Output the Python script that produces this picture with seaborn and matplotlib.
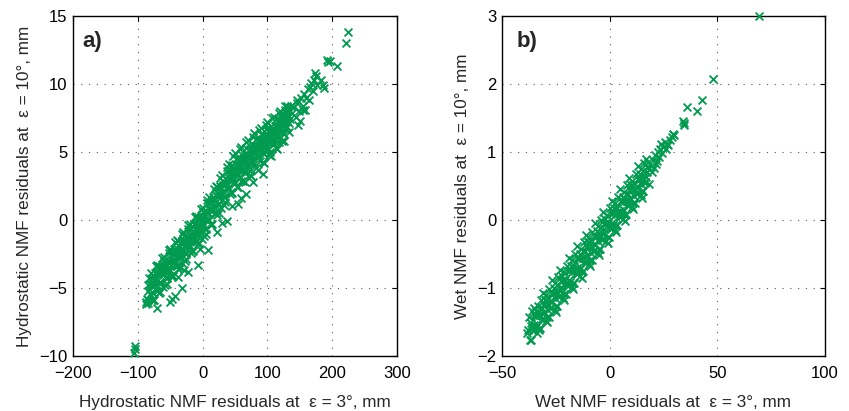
import matplotlib
matplotlib.use("Agg")
import matplotlib.pyplot as plt
import seaborn as sns
import numpy as np

# ---- panel a: hydrostatic NMF residuals (mm), eps=3 deg vs eps=10 deg ----
hyd_x = [
    -85, -84, -82.5, -81.5, -80, -79, -77.5, -76.5, -75, -74, -72.5, -71.5,
    -70, -69, -67.5, -66.5, -65, -64, -62.5, -61.5, -60, -59, -57.5, -56.5,
    -55, -54, -52.5, -51.5, -50, -49, -47.5, -46.5, -45, -44, -42.5, -41.5,
    -40, -39, -37.5, -36.5, -35, -34, -32.5, -31.5, -30, -29, -27.5, -26.5,
    -25, -24, -22.5, -21.5, -20, -19, -17.5, -16.5, -15, -14, -12.5, -11.5,
    -10, -9, -7.5, -6.5, -5, -4, -2.5, -1.5, 0, 1, 2.5, 3.5,
    5, 6, 7.5, 8.5, 10, 11, 12.5, 13.5, 15, 16, 17.5, 18.5,
    20, 21, 22.5, 23.5, 25, 26, 27.5, 28.5, 30, 31, 32.5, 33.5,
    35, 36, 37.5, 38.5, 40, 41, 42.5, 43.5, 45, 46, 47.5, 48.5,
    50, 51, 52.5, 53.5, 55, 56, 57.5, 58.5, 60, 61, 62.5, 63.5,
    65, 66, 67.5, 68.5, 70, 71, 72.5, 73.5, 75, 76, 77.5, 78.5,
    80, 81, 82.5, 83.5, 85, 86, 87.5, 88.5, 90, 91, 92.5, 93.5,
    95, 96, 97.5, 98.5, 100, 101, 102.5, 103.5, 105, 106, 107.5, 108.5,
    110, 111, 112.5, 113.5, 115, 116, 117.5, 118.5, 120, 121, 122.5, 123.5,
    125, 126, 127.5, 128.5, 130, 131, 132.5, 133.5, 135, 136,
]
hyd_y = [
    -6.1, -4.8, -4.25, -5.45, -5.5, -4.8, -4.25, -5.85, -4.8, -3.9, -4.25, -5.15,
    -5.2, -3.9, -3.35, -4.55, -4.6, -3.9, -3.35, -4.95, -3.9, -3.0, -3.35, -4.25,
    -4.3, -3.0, -2.45, -3.65, -3.7, -3.0, -2.45, -4.05, -3.0, -2.1, -2.45, -3.35,
    -3.4, -2.1, -1.55, -2.75, -2.8, -2.1, -1.56, -3.16, -2.11, -1.21, -1.56, -2.46,
    -2.52, -1.22, -0.67, -1.87, -1.92, -1.22, -0.67, -2.27, -1.23, -0.33, -0.68, -1.58,
    -1.64, -0.34, 0.21, -0.99, -1.04, -0.34, 0.2, -1.4, -0.35, 0.55, 0.24, -0.66,
    -0.66, 0.64, 1.24, 0.04, 0.03, 0.73, 1.33, -0.27, 0.82, 1.72, 1.42, 0.52,
    0.51, 1.81, 2.41, 1.21, 1.2, 1.9, 2.5, 0.9, 1.99, 2.89, 2.59, 1.69,
    1.68, 2.98, 3.58, 2.38, 2.37, 3.07, 3.67, 2.07, 3.16, 4.06, 3.72, 2.82,
    2.74, 4.04, 4.56, 3.36, 3.28, 3.98, 4.49, 2.89, 3.91, 4.81, 4.43, 3.53,
    3.45, 4.75, 5.26, 4.06, 3.98, 4.68, 5.2, 3.6, 4.62, 5.52, 5.13, 4.23,
    4.15, 5.45, 5.97, 4.77, 4.69, 5.39, 5.91, 4.31, 5.33, 6.23, 5.84, 4.94,
    4.86, 6.16, 6.68, 5.48, 5.4, 6.1, 6.62, 5.02, 6.04, 6.94, 6.56, 5.66,
    5.58, 6.88, 7.39, 6.19, 6.11, 6.81, 7.33, 5.73, 6.75, 7.65, 7.27, 6.37,
    6.29, 7.59, 8.11, 6.91, 6.83, 7.53, 8.04, 6.44, 7.46, 8.36,
]
# points near the middle of the band
hyd_core_x = [
    -83.75, -81.25, -78.75, -76.25, -73.75, -71.25, -68.75, -66.25, -63.75, -61.25, -58.75,
    -56.25, -53.75, -51.25, -48.75, -46.25, -43.75, -41.25, -38.75, -36.25, -33.75, -31.25,
    -28.75, -26.25, -23.75, -21.25, -18.75, -16.25, -13.75, -11.25, -8.75, -6.25, -3.75,
    -1.25, 1.25, 3.75, 6.25, 8.75, 11.25, 13.75, 16.25, 18.75, 21.25, 23.75,
    26.25, 28.75, 31.25, 33.75, 36.25, 38.75, 41.25, 43.75, 46.25, 48.75, 51.25,
    53.75, 56.25, 58.75, 61.25, 63.75, 66.25, 68.75, 71.25, 73.75, 76.25, 78.75,
    81.25, 83.75, 86.25, 88.75, 91.25, 93.75, 96.25, 98.75, 101.25, 103.75, 106.25,
    108.75, 111.25, 113.75, 116.25, 118.75, 121.25, 123.75, 126.25, 128.75, 131.25, 133.75,
]
hyd_core_y = [
    -5.23, -4.73, -5.28, -4.63, -4.78, -4.48, -3.98, -4.53, -3.88, -4.03, -3.73,
    -3.23, -3.78, -3.13, -3.28, -2.98, -2.48, -3.03, -2.38, -2.53, -2.23, -1.74,
    -2.29, -1.64, -1.80, -1.50, -1.00, -1.55, -0.91, -1.06, -0.77, -0.27, -0.82,
    -0.18, -0.31, 0.04, 0.59, 0.09, 0.78, 0.68, 1.02, 1.57, 1.06, 1.76,
    1.65, 2.00, 2.54, 2.04, 2.73, 2.63, 2.97, 3.52, 2.99, 3.63, 3.45,
    3.72, 4.19, 3.60, 4.22, 4.04, 4.31, 4.77, 4.19, 4.81, 4.63, 4.89,
    5.36, 4.78, 5.40, 5.22, 5.49, 5.95, 5.37, 5.99, 5.81, 6.08, 6.55,
    5.97, 6.59, 6.40, 6.67, 7.14, 6.56, 7.18, 7.00, 7.27, 7.74, 7.15,
]
# points along the outer edges of the band
hyd_edge_x = [
    -80, -75, -70, -65, -60, -55, -50, -45, -40, -35, -30, -25, -20, -15, -10,
    -5, 0, 5, 10, 15, 20, 25, 30, 35, 40, 45, 50, 55, 60, 65, 70,
    75, 80, 85, 90, 95, 100, 105, 110, 115, 120, 125, 130,
    -77.5, -72.5, -67.5, -62.5, -57.5, -52.5, -47.5, -42.5, -37.5, -32.5, -27.5, -22.5,
    -17.5, -12.5, -7.5, -2.5, 2.5, 7.5, 12.5, 17.5, 22.5, 27.5, 32.5, 37.5,
    42.5, 47.5, 52.5, 57.5, 62.5, 67.5, 72.5, 77.5, 82.5, 87.5, 92.5, 97.5,
    102.5, 107.5, 112.5, 117.5, 122.5, 127.5,
]
hyd_edge_y = [
    -3.9, -5.9, -3.3, -5.3, -2.7, -4.7, -2.1, -4.1, -1.5, -3.5, -0.9, -2.9, -0.3, -2.3, 0.3,
    -1.7, 0.9, -1.0, 1.7, -0.3, 2.5, 0.5, 3.3, 1.3, 4.1, 2.0, 4.9, 2.4, 5.4, 2.8, 5.9,
    3.2, 6.4, 3.7, 6.8, 4.2, 7.2, 4.7, 7.6, 5.2, 8.0, 5.8, 8.4,
    -5.9, -3.4, -5.4, -2.8, -4.8, -2.2, -4.2, -1.6, -3.6, -1.0, -3.0, -0.4,
    -2.4, 0.2, -1.8, 0.8, -1.2, 1.5, -0.4, 2.3, 0.4, 3.1, 1.1, 3.9,
    1.9, 4.7, 2.4, 5.2, 2.9, 5.7, 3.3, 6.1, 3.8, 6.6, 4.3, 7.0,
    4.8, 7.5, 5.3, 7.9, 5.8, 8.4,
]
# sparse upper tail and scattered points below the band
hyd_tail_x = [138, 141, 144, 146, 149, 147, 150, 152, 155, 157, 160, 162, 164, 158, 165,
              167, 170, 172, 173.5, 175, 176, 183, 186, 187, 192, 194, 196, 207, 221, 225,
              130, 145, 155]
hyd_tail_y = [7.9, 8.3, 7.6, 8.6, 8.0, 7.0, 7.3, 9.0, 8.4, 9.3, 9.0, 9.6, 8.8, 8.1, 9.8,
              10.1, 9.5, 10.3, 10.8, 10.6, 9.9, 10.3, 9.9, 9.7, 11.8, 11.6, 11.7, 11.3, 13.0, 13.8,
              8.3, 8.8, 8.1]
hyd_out_x = [-104, -106, -105, -88, -86, -87, -84, -71, -50, -47, -43, -38, -32, -28,
             -22, -7, -4.5, 9, 22, 37, 45, 55, 60, 67.5, 78, 93, 30]
hyd_out_y = [-9.3, -9.8, -9.5, -6.0, -5.8, -6.2, -5.9, -6.5, -6.0, -5.8, -5.6, -4.2, -5.0, -3.7,
             -3.8, -3.3, -2.1, -2.2, -0.9, -0.1, 1.0, 1.2, 1.6, 1.9, 2.8, 3.4, -0.2]

# ---- panel b: wet NMF residuals (mm) ----
wet_x = [
    -37, -36.6, -37.4, -36, -35.6, -36.4, -35, -34.6, -35.4, -34, -33.6, -34.4,
    -33, -32.6, -33.4, -32, -31.6, -32.4, -31, -30.6, -31.4, -30, -29.6, -30.4,
    -29, -28.6, -29.4, -28, -27.6, -28.4, -27, -26.6, -27.4, -26, -25.6, -26.4,
    -25, -24.6, -25.4, -24, -23.6, -24.4, -23, -22.6, -23.4, -22, -21.6, -22.4,
    -21, -20.6, -21.4, -20, -19.6, -20.4, -19, -18.6, -19.4, -18, -17.6, -18.4,
    -17, -16.6, -17.4, -16, -15.6, -16.4, -15, -14.6, -15.4, -14, -13.6, -14.4,
    -13, -12.6, -13.4, -12, -11.6, -12.4, -11, -10.6, -11.4, -10, -9.6, -10.4,
    -9, -8.6, -9.4, -8, -7.6, -8.4, -7, -6.6, -7.4, -6, -5.6, -6.4,
    -5, -4.6, -5.4, -4, -3.6, -4.4, -3, -2.6, -3.4, -2, -1.6, -2.4,
    -1, -0.6, -1.4, 0, 0.4, -0.4, 1, 1.4, 0.6, 2, 2.4, 1.6,
    3, 3.4, 2.6, 4, 4.4, 3.6, 5, 5.4, 4.6, 6, 6.4, 5.6,
    7, 7.4, 6.6, 8, 8.4, 7.6, 9, 9.4, 8.6, 10, 10.4, 9.6,
    11, 11.4, 10.6, 12, 12.4, 11.6, 13, 13.4, 12.6, 14, 14.4, 13.6,
    15, 15.4, 14.6, 16, 16.4, 15.6, 17, 17.4, 16.6, 18, 18.4, 17.6,
]
wet_y = [
    -1.76, -1.56, -1.43, -1.34, -1.62, -1.76, -1.55, -1.40, -1.64, -1.34, -1.66, -1.41,
    -1.60, -1.40, -1.27, -1.17, -1.45, -1.59, -1.38, -1.23, -1.47, -1.17, -1.49, -1.24,
    -1.43, -1.23, -1.10, -1.01, -1.29, -1.43, -1.21, -1.06, -1.30, -1.00, -1.32, -1.07,
    -1.26, -1.06, -0.93, -0.84, -1.12, -1.26, -1.05, -0.90, -1.14, -0.83, -1.15, -0.90,
    -1.09, -0.89, -0.76, -0.67, -0.95, -1.09, -0.88, -0.73, -0.97, -0.67, -0.99, -0.74,
    -0.92, -0.72, -0.59, -0.50, -0.78, -0.92, -0.71, -0.56, -0.80, -0.50, -0.82, -0.57,
    -0.76, -0.56, -0.43, -0.33, -0.61, -0.75, -0.54, -0.39, -0.63, -0.33, -0.65, -0.40,
    -0.59, -0.39, -0.26, -0.17, -0.45, -0.59, -0.37, -0.22, -0.46, -0.16, -0.48, -0.23,
    -0.42, -0.22, -0.09, 0.00, -0.28, -0.42, -0.21, -0.06, -0.30, 0.01, -0.31, -0.06,
    -0.25, -0.05, 0.08, 0.17, -0.11, -0.25, -0.04, 0.11, -0.13, 0.17, -0.15, 0.10,
    -0.08, 0.12, 0.25, 0.34, 0.06, -0.08, 0.13, 0.28, 0.04, 0.34, 0.02, 0.27,
    0.08, 0.28, 0.41, 0.51, 0.23, 0.09, 0.30, 0.45, 0.21, 0.51, 0.19, 0.44,
    0.25, 0.45, 0.58, 0.67, 0.39, 0.25, 0.47, 0.62, 0.38, 0.68, 0.36, 0.61,
    0.42, 0.62, 0.75, 0.84, 0.56, 0.42, 0.63, 0.78, 0.54, 0.85, 0.53, 0.78,
]
wet_core_x = [
    -36.5, -35.5, -34.5, -33.5, -32.5, -31.5, -30.5, -29.5, -28.5, -27.5, -26.5,
    -25.5, -24.5, -23.5, -22.5, -21.5, -20.5, -19.5, -18.5, -17.5, -16.5, -15.5,
    -14.5, -13.5, -12.5, -11.5, -10.5, -9.5, -8.5, -7.5, -6.5, -5.5, -4.5,
    -3.5, -2.5, -1.5, -0.5, 0.5, 1.5, 2.5, 3.5, 4.5, 5.5, 6.5,
    7.5, 8.5, 9.5, 10.5, 11.5, 12.5, 13.5, 14.5, 15.5, 16.5, 17.5,
]
wet_core_y = [
    -1.51, -1.57, -1.38, -1.54, -1.40, -1.30, -1.36, -1.17, -1.33, -1.19, -1.09,
    -1.15, -0.96, -1.12, -0.98, -0.88, -0.94, -0.75, -0.91, -0.77, -0.67, -0.73,
    -0.54, -0.70, -0.56, -0.46, -0.52, -0.33, -0.49, -0.35, -0.25, -0.31, -0.12,
    -0.28, -0.14, -0.04, -0.10, 0.09, -0.07, 0.08, 0.17, 0.11, 0.30, 0.14,
    0.29, 0.38, 0.32, 0.51, 0.35, 0.50, 0.59, 0.53, 0.72, 0.56, 0.71,
]
wet_edge_x = [-35, -33, -31, -29, -27, -25, -23, -21, -19, -17, -15, -13, -11, -9,
              -7, -5, -3, -1, 1, 3, 5, 7, 9, 11, 13, 15, 17]
wet_edge_y = [-1.30, -1.62, -1.08, -1.50, -0.89, -1.35, -0.73, -1.18, -0.56, -1.01, -0.39, -0.85, -0.22, -0.68,
              -0.05, -0.51, 0.11, -0.34, 0.28, -0.17, 0.45, -0.01, 0.62, 0.16, 0.79, 0.33, 0.90]
wet_tail_x = [19, 19.5, 20, 20.5, 21, 21.5, 22, 22.5, 23, 23.5, 24, 24.5, 25, 25.5, 26,
              26.5, 27, 28, 29, 29.5, 30, 34, 34.3, 34.6, 36, 40.5, 42.8, 48.2, 69.5,
              -38.4, -37.8]
wet_tail_y = [0.80, 0.70, 0.88, 0.76, 0.95, 0.82, 0.87, 1.00, 0.92, 1.05, 1.12, 0.98, 1.07, 1.15, 1.05,
              1.12, 1.10, 1.18, 1.22, 1.27, 1.25, 1.45, 1.42, 1.40, 1.66, 1.61, 1.76, 2.07, 3.00,
              -1.67, -1.62]

green = "#009B4E"

sns.set_style("white")
plt.rcParams["font.family"] = ["Liberation Sans", "DejaVu Sans"]
plt.rcParams["axes.unicode_minus"] = True

fig = plt.figure(figsize=(8.49, 4.11), dpi=100)
ax_a = fig.add_axes([0.086, 0.134, 0.3816, 0.827])
ax_b = fig.add_axes([0.5913, 0.134, 0.3804, 0.827])


def draw(ax, x, y, xlim, ylim, xticks, yticks, xlabel, ylabel, tag, tag_x):
    sns.scatterplot(x=x, y=y, ax=ax, marker="x", color=green, s=32,
                    linewidth=1.3, clip_on=False, zorder=3)
    ax.set_xlim(*xlim)
    ax.set_ylim(*ylim)
    ax.set_xticks(xticks)
    ax.set_yticks(yticks)
    ax.grid(True, color="#555555", linestyle=(0, (1, 6)), linewidth=0.8)
    ax.tick_params(direction="in", top=True, right=True, length=3.5,
                   width=0.8, labelsize=12, colors="black")
    ax.tick_params(axis="x", pad=7)
    ax.tick_params(axis="y", pad=4)
    for sp in ax.spines.values():
        sp.set_linewidth(1.0)
        sp.set_color("black")
    ax.set_xlabel(xlabel, fontsize=12.3, labelpad=10)
    ax.set_ylabel(ylabel, fontsize=12.3, labelpad=5)
    ax.text(tag_x, 0.955, tag, transform=ax.transAxes, fontsize=16,
            fontweight="bold", ha="left", va="top")


draw(ax_a,
     np.concatenate([hyd_x, hyd_core_x, hyd_edge_x, hyd_tail_x, hyd_out_x]),
     np.concatenate([hyd_y, hyd_core_y, hyd_edge_y, hyd_tail_y, hyd_out_y]),
     (-200, 300), (-10, 15), [-200, -100, 0, 100, 200, 300], [-10, -5, 0, 5, 10, 15],
     "Hydrostatic NMF residuals at  \u03b5 = 3\u00b0, mm",
     "Hydrostatic NMF residuals at  \u03b5 = 10\u00b0, mm", "a)", 0.03)

draw(ax_b,
     np.concatenate([wet_x, wet_core_x, wet_edge_x, wet_tail_x]),
     np.concatenate([wet_y, wet_core_y, wet_edge_y, wet_tail_y]),
     (-50, 100), (-2, 3), [-50, 0, 50, 100], [-2, -1, 0, 1, 2, 3],
     "Wet NMF residuals at  \u03b5 = 3\u00b0, mm",
     "Wet NMF residuals at  \u03b5 = 10\u00b0, mm", "b)", 0.045)

fig.savefig("out.png", dpi=100)
